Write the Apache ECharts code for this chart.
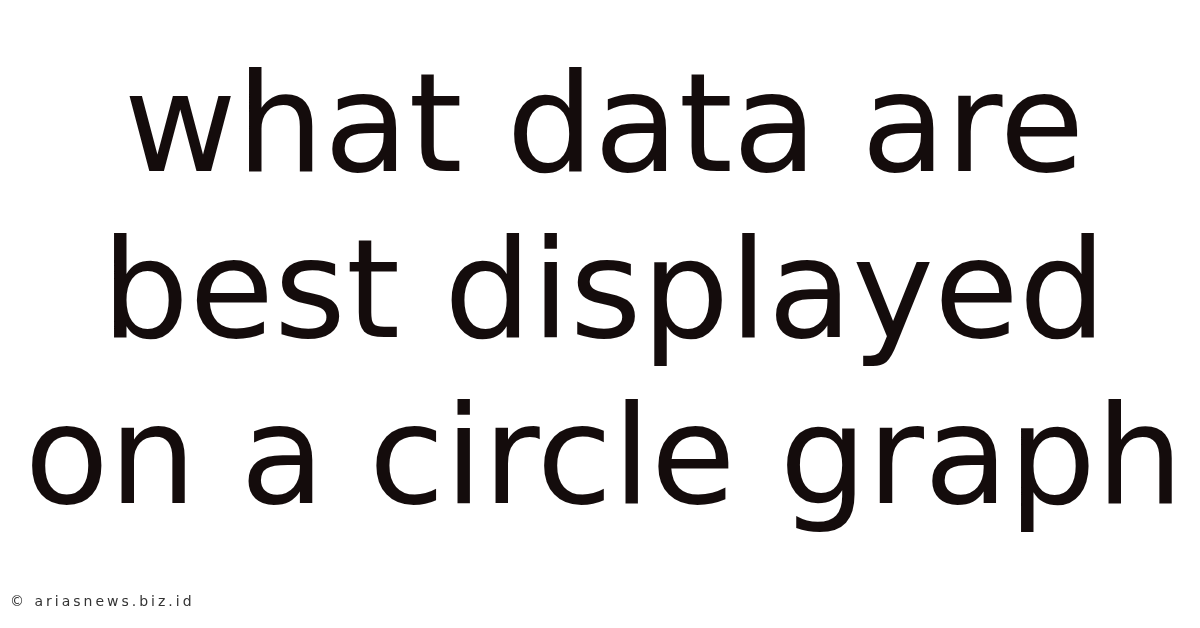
<!DOCTYPE html>
<html>
<head>
<meta charset="utf-8">
<script src="https://cdn.jsdelivr.net/npm/echarts@6/dist/echarts.min.js"></script>
<style>
  html, body { margin: 0; padding: 0; background: #fff; }
  #main { width: 1200px; height: 628px; }
</style>
</head>
<body>
<div id="main"></div>
<script>
// headline lines and footer text
var titleLines = ['what data are', 'best displayed', 'on a circle graph'];
var footerText = '\u00a9 ariasnews.biz.id';

var myChart = echarts.init(document.getElementById('main'));

var lineY = [135, 301, 467];
var elements = titleLines.map(function (t, i) {
  return {
    type: 'text',
    x: 604,
    y: lineY[i],
    style: {
      text: t,
      fill: '#140c0c',
      font: '138px "DejaVu Sans"',
      align: 'center',
      verticalAlign: 'middle'
    }
  };
});

// footer is letter-spaced: one rich token per character, padded on both sides
var footerRich = footerText.split('').map(function (ch) {
  return '{c|' + ch + '}';
}).join('');
elements.push({
  type: 'text',
  x: 8.5,
  y: 602,
  style: {
    text: footerRich,
    rich: {
      c: {
        fill: '#333',
        font: '14px "DejaVu Sans"',
        padding: [0, 1.5]
      }
    },
    align: 'left',
    verticalAlign: 'middle'
  }
});

myChart.setOption({
  backgroundColor: '#fff',
  graphic: { elements: elements }
});
</script>
</body>
</html>
